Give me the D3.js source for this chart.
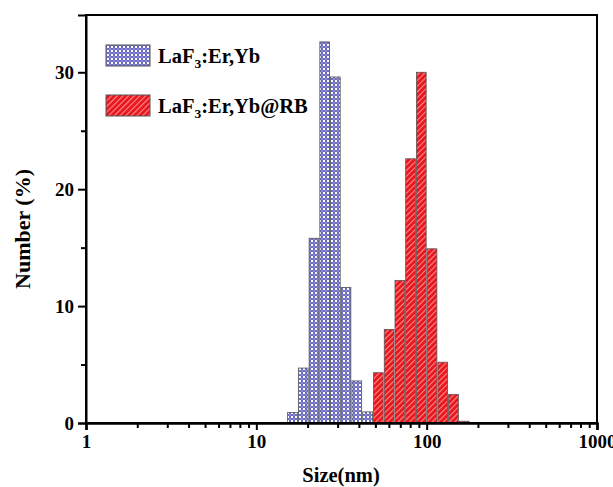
<!DOCTYPE html>
<html>
<head>
<meta charset="utf-8">
<script src="https://cdn.jsdelivr.net/npm/d3@7"></script>
<style>
  body { margin: 0; background: #fff; }
  text { font-family: "Liberation Serif", "Times New Roman", serif; font-weight: bold; }
</style>
</head>
<body>
<svg id="drawing_region"></svg>
<script>
// bin centres (nm) and number (%)
const sizeBlue = [16.3, 18.85, 21.8, 25.2, 29.1, 33.6, 38.9, 45.0];
const numberBlue = [0.9, 4.7, 15.8, 32.6, 29.6, 11.6, 3.6, 0.95];
const sizeRed = [52.0, 60.2, 69.6, 80.4, 93.0, 107.5, 124.3, 143.7, 166.1];
const numberRed = [4.3, 8.0, 12.2, 22.6, 30.0, 14.9, 5.2, 2.45, 0.15];
const binRatio = 1.156;

const seriesNames = ["LaF3:Er,Yb", "LaF3:Er,Yb@RB"];
const xMajorTicks = [1, 10, 100, 1000];
const yMajorTicks = [0, 10, 20, 30];
const yMinorTicks = [5, 15, 25];

class SizeHistogram {

    constructor( config ) {
        this.config = {
            parent: config.parent,
            width: config.width || 613,
            height: config.height || 487,
            margin: config.margin || {top:15, right:16, bottom:64, left:86}
        };
        this.init();
    }

    init() {
        let self = this;

        self.svg = d3.select( self.config.parent )
            .attr('width', self.config.width)
            .attr('height', self.config.height);

        const defs = self.svg.append('defs');

        // blue: cross-hatch
        const pb = defs.append('pattern')
            .attr('id', 'pat_blue')
            .attr('width', 4).attr('height', 4)
            .attr('patternUnits', 'userSpaceOnUse');
        pb.append('rect').attr('width', 4).attr('height', 4).attr('fill', '#5a5abe');
        pb.append('circle').attr('cx', 2).attr('cy', 2).attr('r', 1.25).attr('fill', '#ffffff');
        pb.append('circle').attr('cx', 0).attr('cy', 0).attr('r', 0.7).attr('fill', '#dcdcf6');
        pb.append('circle').attr('cx', 4).attr('cy', 4).attr('r', 0.7).attr('fill', '#dcdcf6');
        pb.append('circle').attr('cx', 4).attr('cy', 0).attr('r', 0.7).attr('fill', '#dcdcf6');
        pb.append('circle').attr('cx', 0).attr('cy', 4).attr('r', 0.7).attr('fill', '#dcdcf6');

        // red: diagonal stripes
        const pr = defs.append('pattern')
            .attr('id', 'pat_red')
            .attr('width', 4).attr('height', 4)
            .attr('patternUnits', 'userSpaceOnUse')
            .attr('patternTransform', 'rotate(45)');
        pr.append('rect').attr('width', 4).attr('height', 4).attr('fill', '#e8161e');
        pr.append('rect').attr('x', 0).attr('width', 1.1).attr('height', 4).attr('fill', '#ff8a8a');

        self.chart = self.svg.append('g')
            .attr('transform', `translate(${self.config.margin.left}, ${self.config.margin.top})`);

        self.inner_width = self.config.width - self.config.margin.left - self.config.margin.right;
        self.inner_height = self.config.height - self.config.margin.top - self.config.margin.bottom;

        self.xscale = d3.scaleLog()
            .domain([1, 1000])
            .range([0, self.inner_width]);

        self.yscale = d3.scaleLinear()
            .domain([0, 34.9])
            .range([self.inner_height, 0]);
    }

    bars( sizes, values, fill, cls ) {
        let self = this;
        const half = Math.sqrt(binRatio);
        const data = sizes.map( (s, i) => ({ lo: s / half, hi: s * half, v: values[i] }) );

        self.chart.selectAll('rect.' + cls)
            .data(data)
            .enter()
            .append('rect')
            .attr('class', cls)
            .attr('x', d => self.xscale(d.lo) + 0.5)
            .attr('width', d => self.xscale(d.hi) - self.xscale(d.lo) - 1)
            .attr('y', d => self.yscale(d.v))
            .attr('height', d => self.yscale(0) - self.yscale(d.v))
            .attr('fill', fill)
            .attr('stroke', '#555')
            .attr('stroke-width', 0.8);
    }

    render() {
        let self = this;

        self.bars( sizeBlue, numberBlue, 'url(#pat_blue)', 'blue' );
        self.bars( sizeRed, numberRed, 'url(#pat_red)', 'red' );

        // frame
        self.chart.append('rect')
            .attr('width', self.inner_width)
            .attr('height', self.inner_height)
            .attr('fill', 'none')
            .attr('stroke', '#000')
            .attr('stroke-width', 2);

        // x axis
        const minor = [];
        [1, 10, 100].forEach( d => { for (let k = 2; k < 10; k++) minor.push(d * k); } );

        const xminor = self.chart.append('g')
            .attr('transform', `translate(0, ${self.inner_height})`)
            .call( d3.axisBottom(self.xscale).tickValues(minor).tickSize(5).tickFormat('') );
        xminor.select('.domain').remove();

        const xaxis = self.chart.append('g')
            .attr('transform', `translate(0, ${self.inner_height})`)
            .call( d3.axisBottom(self.xscale).tickValues(xMajorTicks).tickSize(7).tickPadding(5).tickFormat(d3.format('d')) );
        xaxis.select('.domain').attr('stroke-width', 2.5);
        xaxis.selectAll('text').attr('font-size', '19px').attr('fill', '#000');

        // y axis
        const yminor = self.chart.append('g')
            .call( d3.axisLeft(self.yscale).tickValues(yMinorTicks).tickSize(5).tickFormat('') );
        yminor.select('.domain').remove();

        const yaxis = self.chart.append('g')
            .call( d3.axisLeft(self.yscale).tickValues(yMajorTicks).tickSize(8).tickPadding(4) );
        yaxis.select('.domain').attr('stroke-width', 2);
        yaxis.selectAll('text').attr('font-size', '19px').attr('fill', '#000');

        self.chart.selectAll('.tick line').attr('stroke-width', 2);

        // axis titles
        self.svg.append('text')
            .attr('x', 341)
            .attr('y', 482)
            .attr('text-anchor', 'middle')
            .attr('font-size', '20.5px')
            .text('Size(nm)');

        self.svg.append('text')
            .attr('transform', `translate(30, 229) rotate(-90)`)
            .attr('text-anchor', 'middle')
            .attr('font-size', '22px')
            .text('Number (%)');

        // legend
        const fills = ['url(#pat_blue)', 'url(#pat_red)'];
        seriesNames.forEach( (name, i) => {
            const g = self.svg.append('g')
                .attr('transform', `translate(106, ${45 + i * 50})`);
            g.append('rect')
                .attr('width', 44).attr('height', 21)
                .attr('fill', fills[i])
                .attr('stroke', '#555')
                .attr('stroke-width', 1);
            const parts = name.split('3');
            const t = g.append('text')
                .attr('x', 52)
                .attr('y', 18)
                .attr('font-size', '20.5px');
            t.append('tspan').text(parts[0]);
            t.append('tspan').attr('font-size', '13.5px').attr('dy', 5).text('3');
            t.append('tspan').attr('dy', -5).text(parts[1]);
        });
    }
}

const chart = new SizeHistogram({ parent: '#drawing_region', width: 613, height: 487 });
chart.render();
</script>
</body>
</html>
